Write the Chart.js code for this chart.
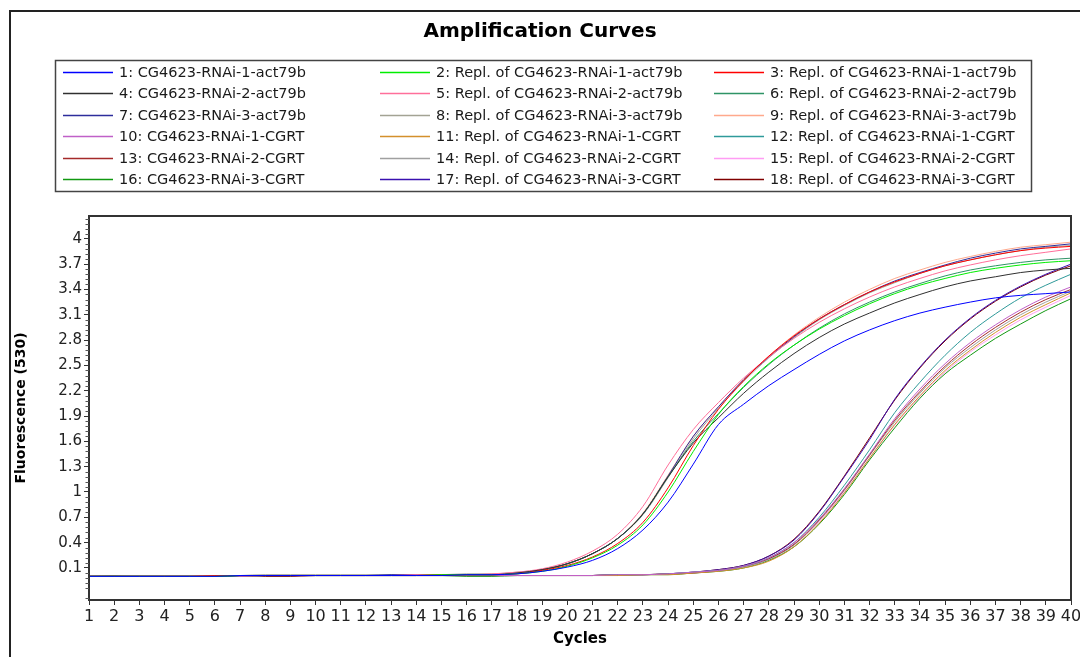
<!DOCTYPE html>
<html>
<head>
<meta charset="utf-8">
<title>Amplification Curves</title>
<script src="https://cdn.jsdelivr.net/npm/chart.js@4.4.1/dist/chart.umd.min.js"></script>
<style>
  html, body { margin: 0; padding: 0; background: #fff; }
  #chart-amp { display: block; }
</style>
</head>
<body>
<canvas id="chart-amp" width="1080" height="657"></canvas>
<script>
// cycles on the x axis
const cycles = [1,2,3,4,5,6,7,8,9,10,11,12,13,14,15,16,17,18,19,20,21,22,23,24,25,26,27,28,29,30,31,32,33,34,35,36,37,38,39,40];

const seriesNames = [
  '1: CG4623-RNAi-1-act79b', '2: Repl. of CG4623-RNAi-1-act79b', '3: Repl. of CG4623-RNAi-1-act79b',
  '4: CG4623-RNAi-2-act79b', '5: Repl. of CG4623-RNAi-2-act79b', '6: Repl. of CG4623-RNAi-2-act79b',
  '7: CG4623-RNAi-3-act79b', '8: Repl. of CG4623-RNAi-3-act79b', '9: Repl. of CG4623-RNAi-3-act79b',
  '10: CG4623-RNAi-1-CGRT', '11: Repl. of CG4623-RNAi-1-CGRT', '12: Repl. of CG4623-RNAi-1-CGRT',
  '13: CG4623-RNAi-2-CGRT', '14: Repl. of CG4623-RNAi-2-CGRT', '15: Repl. of CG4623-RNAi-2-CGRT',
  '16: CG4623-RNAi-3-CGRT', '17: Repl. of CG4623-RNAi-3-CGRT', '18: Repl. of CG4623-RNAi-3-CGRT'
];

const seriesColors = [
  '#0000ff', '#00ee00', '#ff0000',
  '#303030', '#ff6f9a', '#2e9466',
  '#2d2d9c', '#a3a394', '#ffa98c',
  '#c060c8', '#d4902c', '#2f9a9a',
  '#a52a2a', '#a0a0a0', '#ff9cf4',
  '#119911', '#3a10b0', '#800000'
];

// fluorescence (530) per cycle
const s1  = [0.00,0.00,0.00,0.00,0.00,0.00,0.01,0.01,0.01,0.01,0.01,0.01,0.01,0.01,0.01,0.02,0.02,0.03,0.06,0.11,0.19,0.33,0.55,0.88,1.33,1.80,2.04,2.26,2.45,2.63,2.79,2.92,3.03,3.12,3.19,3.25,3.30,3.33,3.35,3.37];
const s2  = [0.00,0.00,0.00,0.00,0.00,0.00,0.01,0.01,0.01,0.01,0.01,0.01,0.01,0.01,0.02,0.02,0.02,0.03,0.06,0.12,0.22,0.37,0.61,1.00,1.48,1.92,2.25,2.52,2.74,2.93,3.09,3.23,3.35,3.45,3.53,3.60,3.65,3.69,3.72,3.74];
const s3  = [0.00,0.00,0.00,0.00,0.00,0.01,0.01,0.01,0.01,0.01,0.01,0.01,0.01,0.01,0.02,0.02,0.02,0.03,0.07,0.13,0.23,0.39,0.64,1.05,1.55,1.98,2.32,2.61,2.85,3.05,3.22,3.37,3.49,3.59,3.68,3.75,3.81,3.86,3.89,3.91];
const s4  = [0.00,0.00,0.00,0.00,0.00,0.00,0.01,0.01,0.01,0.01,0.01,0.01,0.01,0.01,0.01,0.02,0.02,0.04,0.08,0.15,0.27,0.45,0.74,1.18,1.58,1.88,2.17,2.42,2.64,2.83,2.99,3.12,3.24,3.34,3.43,3.50,3.55,3.60,3.63,3.65];
const s5  = [0.00,0.00,0.00,0.00,0.00,0.01,0.01,0.01,0.01,0.01,0.01,0.01,0.01,0.02,0.02,0.02,0.03,0.05,0.09,0.17,0.30,0.50,0.83,1.32,1.74,2.06,2.35,2.60,2.82,3.01,3.17,3.31,3.43,3.53,3.62,3.69,3.75,3.80,3.84,3.88];
const s6  = [0.00,0.00,0.00,0.00,0.00,0.00,0.01,0.01,0.01,0.01,0.01,0.01,0.01,0.01,0.02,0.02,0.02,0.04,0.08,0.15,0.27,0.45,0.74,1.18,1.60,1.93,2.24,2.51,2.74,2.94,3.11,3.25,3.37,3.47,3.56,3.63,3.68,3.72,3.75,3.77];
const s7  = [0.00,0.00,0.00,0.00,0.00,0.00,0.01,0.01,0.01,0.01,0.01,0.01,0.02,0.02,0.02,0.02,0.02,0.04,0.08,0.15,0.27,0.45,0.74,1.19,1.66,2.01,2.33,2.60,2.84,3.05,3.22,3.37,3.50,3.60,3.69,3.77,3.83,3.88,3.91,3.94];
const s8  = [0.00,0.00,0.01,0.00,0.00,0.00,0.01,0.02,0.02,0.02,0.02,0.02,0.02,0.02,0.02,0.03,0.03,0.05,0.08,0.15,0.27,0.45,0.73,1.17,1.63,1.99,2.31,2.59,2.83,3.04,3.21,3.36,3.48,3.59,3.68,3.75,3.81,3.86,3.90,3.92];
const s9  = [0.00,0.00,0.00,0.00,0.00,0.00,0.01,0.01,0.01,0.01,0.01,0.01,0.01,0.01,0.02,0.02,0.02,0.04,0.08,0.15,0.27,0.45,0.75,1.20,1.66,2.01,2.33,2.61,2.86,3.07,3.25,3.40,3.53,3.63,3.72,3.79,3.85,3.90,3.93,3.96];
const s10 = [0.00,0.00,0.00,0.00,0.00,0.00,0.00,0.01,0.01,0.01,0.01,0.01,0.01,0.01,0.01,0.01,0.01,0.01,0.01,0.01,0.01,0.02,0.02,0.03,0.05,0.07,0.12,0.22,0.40,0.68,1.04,1.45,1.87,2.22,2.52,2.77,2.98,3.16,3.31,3.43];
const s11 = [0.00,0.00,0.00,0.00,0.00,0.00,0.00,0.01,0.01,0.01,0.01,0.01,0.01,0.01,0.01,0.01,0.01,0.01,0.01,0.01,0.01,0.01,0.02,0.02,0.04,0.06,0.10,0.18,0.35,0.63,0.99,1.40,1.80,2.14,2.44,2.68,2.89,3.07,3.22,3.36];
const s12 = [0.00,0.00,0.00,0.00,0.00,0.00,0.00,0.01,0.01,0.01,0.01,0.01,0.01,0.01,0.01,0.01,0.01,0.01,0.01,0.01,0.01,0.02,0.02,0.03,0.05,0.07,0.12,0.22,0.40,0.70,1.08,1.50,1.94,2.30,2.62,2.89,3.11,3.30,3.45,3.58];
const s13 = [0.00,0.00,0.00,0.00,0.00,0.00,0.00,0.01,0.01,0.01,0.01,0.01,0.01,0.01,0.01,0.01,0.01,0.01,0.01,0.01,0.01,0.02,0.02,0.03,0.04,0.07,0.12,0.21,0.38,0.67,1.03,1.44,1.85,2.19,2.49,2.74,2.95,3.13,3.28,3.40];
const s14 = [0.00,0.00,0.00,0.00,0.00,0.00,0.00,0.01,0.01,0.01,0.01,0.01,0.01,0.01,0.01,0.01,0.01,0.01,0.01,0.01,0.01,0.02,0.02,0.03,0.04,0.07,0.11,0.20,0.37,0.66,1.02,1.43,1.83,2.17,2.47,2.71,2.92,3.10,3.25,3.38];
const s15 = [0.00,0.00,0.00,0.00,0.00,0.00,0.00,0.01,0.01,0.01,0.01,0.01,0.01,0.01,0.01,0.01,0.01,0.01,0.01,0.01,0.01,0.02,0.02,0.03,0.05,0.07,0.12,0.21,0.38,0.65,1.00,1.40,1.79,2.13,2.42,2.66,2.86,3.04,3.19,3.33];
const s16 = [0.00,0.01,0.00,0.00,0.00,0.00,0.00,0.01,0.01,0.01,0.01,0.01,0.01,0.01,0.01,0.00,0.00,0.01,0.01,0.01,0.01,0.01,0.02,0.02,0.04,0.06,0.10,0.19,0.35,0.62,0.97,1.38,1.76,2.11,2.40,2.62,2.82,2.99,3.15,3.29];
const s17 = [0.00,0.00,0.00,0.00,0.00,0.00,0.00,0.01,0.01,0.01,0.01,0.01,0.01,0.01,0.01,0.01,0.01,0.01,0.01,0.01,0.01,0.02,0.02,0.03,0.05,0.08,0.13,0.24,0.43,0.76,1.18,1.62,2.10,2.48,2.80,3.06,3.27,3.44,3.58,3.70];
const s18 = [0.00,0.00,0.00,0.00,0.00,0.00,0.00,0.00,0.00,0.01,0.01,0.01,0.01,0.01,0.01,0.01,0.01,0.01,0.01,0.01,0.01,0.02,0.02,0.03,0.05,0.08,0.13,0.24,0.44,0.77,1.19,1.64,2.09,2.47,2.79,3.05,3.26,3.43,3.57,3.68];

const seriesValues = [s1,s2,s3,s4,s5,s6,s7,s8,s9,s10,s11,s12,s13,s14,s15,s16,s17,s18];

// labelled y ticks
const yTicks = [0.1,0.4,0.7,1,1.3,1.6,1.9,2.2,2.5,2.8,3.1,3.4,3.7,4];

const FONT = 'DejaVu Sans';

// outer frame, plot box, minor y ticks and the 3-column legend
const framePlugin = {
  id: 'frame',
  beforeDraw(chart) {
    const ctx = chart.ctx;
    ctx.save();
    ctx.fillStyle = '#fff';
    ctx.fillRect(0, 0, chart.width, chart.height);
    ctx.strokeStyle = '#222';
    ctx.lineWidth = 2;
    ctx.beginPath();
    ctx.moveTo(10, chart.height);
    ctx.lineTo(10, 11);
    ctx.lineTo(chart.width, 11);
    ctx.stroke();
    ctx.restore();
  },
  afterDraw(chart) {
    const ctx = chart.ctx;
    const a = chart.chartArea;
    const y = chart.scales.y;
    ctx.save();
    // plot box
    ctx.strokeStyle = '#333';
    ctx.lineWidth = 2;
    ctx.strokeRect(a.left, a.top, a.right - a.left, a.bottom - a.top);

    // minor ticks every 0.06 between the labelled ones
    ctx.lineWidth = 1;
    ctx.strokeStyle = '#555';
    for (let k = -6; k <= 69; k++) {
      if (k % 5 === 0) continue;
      const py = Math.round(y.getPixelForValue(0.1 + k * 0.06)) + 0.5;
      if (py < a.top || py > a.bottom) continue;
      ctx.beginPath();
      ctx.moveTo(a.left - 3.5, py);
      ctx.lineTo(a.left, py);
      ctx.stroke();
    }

    // legend
    const box = { x: 55.5, y: 60.5, w: 976, h: 131 };
    ctx.strokeStyle = '#444';
    ctx.lineWidth = 1.5;
    ctx.strokeRect(box.x, box.y, box.w, box.h);
    const colX = [63, 380, 714];
    ctx.font = '14.5px "' + FONT + '"';
    ctx.textBaseline = 'middle';
    ctx.textAlign = 'left';
    chart.data.datasets.forEach((ds, i) => {
      const col = i % 3;
      const row = Math.floor(i / 3);
      const ly = Math.round(71.5 + row * 21.5);
      ctx.strokeStyle = ds.borderColor;
      ctx.lineWidth = 1.5;
      ctx.beginPath();
      ctx.moveTo(colX[col], ly + 0.5);
      ctx.lineTo(colX[col] + 50, ly + 0.5);
      ctx.stroke();
      ctx.fillStyle = '#1a1a1a';
      ctx.fillText(ds.label, colX[col] + 56, ly + 1);
    });
    ctx.restore();
  }
};

const dataAmp = {
  datasets: seriesValues.map((vals, i) => ({
    label: seriesNames[i],
    data: cycles.map((c, j) => ({ x: c, y: vals[j] })),
    borderColor: seriesColors[i],
    backgroundColor: seriesColors[i],
    borderWidth: 1,
    pointRadius: 0,
    fill: false,
    cubicInterpolationMode: 'monotone'
  }))
};

const configAmp = {
  type: 'line',
  data: dataAmp,
  options: {
    responsive: false,
    animation: false,
    devicePixelRatio: 1,
    layout: { padding: { left: 0, right: 0, top: 0, bottom: 0 } },
    plugins: {
      legend: { display: false },
      tooltip: { enabled: false },
      title: {
        display: true,
        text: 'Amplification Curves',
        color: '#000',
        font: { family: FONT, size: 20, weight: 'bold' },
        padding: { top: 20, bottom: 172 }
      }
    },
    scales: {
      x: {
        type: 'linear',
        min: 1,
        max: 40,
        afterFit: s => { s.height = 57; s.paddingRight = 9; },
        border: { display: false },
        grid: { drawOnChartArea: false, drawTicks: true, tickLength: 5, tickColor: '#333' },
        ticks: {
          stepSize: 1,
          autoSkip: false,
          maxRotation: 0,
          padding: 2,
          color: '#222',
          font: { family: FONT, size: 16 }
        },
        title: {
          display: true,
          text: 'Cycles',
          color: '#000',
          font: { family: FONT, size: 15, weight: 'bold' },
          padding: { top: 2, bottom: 9 }
        }
      },
      y: {
        min: -0.28,
        max: 4.27,
        afterBuildTicks: s => { s.ticks = yTicks.map(v => ({ value: v })); },
        afterFit: s => { s.width = 89; },
        border: { display: false },
        grid: { drawOnChartArea: false, drawTicks: true, tickLength: 5, tickColor: '#333' },
        ticks: {
          padding: 2,
          color: '#222',
          font: { family: FONT, size: 15 },
          callback: v => String(v)
        },
        title: {
          display: true,
          text: 'Fluorescence (530)',
          color: '#000',
          font: { family: FONT, size: 14, weight: 'bold' },
          padding: { top: 13, bottom: 4 }
        }
      }
    }
  },
  plugins: [framePlugin]
};

const myChartAmp = new Chart(document.getElementById('chart-amp'), configAmp);
</script>
</body>
</html>
